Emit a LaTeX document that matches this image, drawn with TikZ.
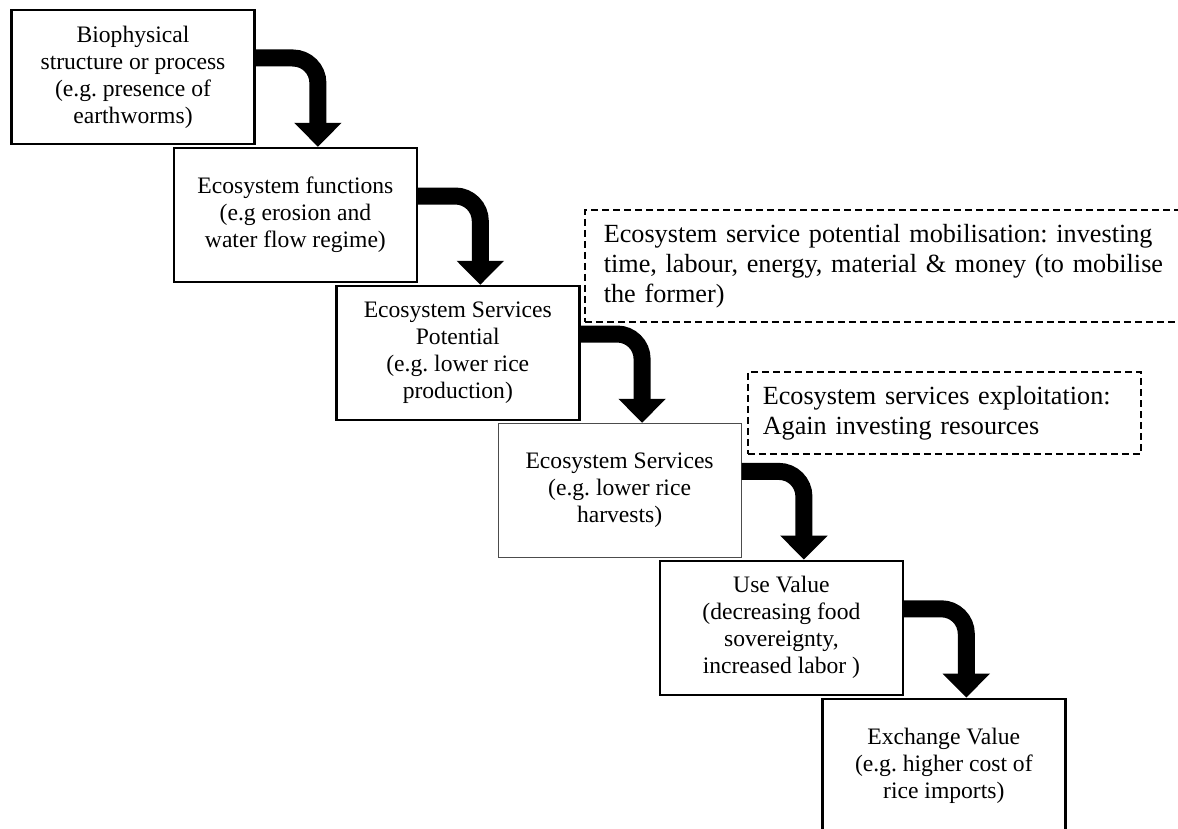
\documentclass[tikz,border=0pt]{standalone}
\usepackage{fontspec}
\setmainfont{Liberation Serif}
\usetikzlibrary{positioning, arrows.meta}

\begin{document}
\frenchspacing
\begin{tikzpicture}[x=0.5pt, y=-0.5pt, node distance=0.8pt and -41.5pt]
\tikzstyle{stage} = [rectangle, minimum width=121.5pt, minimum height=67pt, text centered, align=center, inner sep=2pt, draw=black, line width=1.2pt, font=\fontsize{11.8}{13.5}\selectfont]
\tikzstyle{thinstage} = [stage, draw=black!70, line width=0.6pt]
\tikzstyle{note} = [rectangle, anchor=north west, align=left, draw=black, line width=0.8pt, dash pattern=on 3.5pt off 2pt, font=\fontsize{13.1}{15}\selectfont]
\tikzstyle{flow} = [line width=8.5pt, rounded corners=12.5pt, -{Triangle[width=23pt, length=12pt]}]

\useasboundingbox (0,0) rectangle (1178,829);

\node (biophys) [stage] at (133,77) {Biophysical\\structure or process\\(e.g. presence of\\earthworms)};
\node (functions) [stage, below right=of biophys] {Ecosystem functions\\(e.g erosion and\\water flow regime)};
\node (potential) [stage, below right=of functions] {Ecosystem Services\\Potential\\(e.g. lower rice\\production)};
\node (services) [thinstage, below right=of potential] {Ecosystem Services\\(e.g. lower rice\\harvests)};
\node (usevalue) [stage, below right=of services] {Use Value\\(decreasing food\\sovereignty,\\increased labor )};
\node (exchange) [stage, below right=of usevalue] {Exchange Value\\(e.g. higher cost of\\rice imports)};

\node (mobilise) [note, minimum width=308pt, minimum height=56pt, text width=289pt, inner xsep=9.5pt] at (584,209) {Ecosystem service potential mobilisation: investing\\time, labour, energy, material \& money (to mobilise\\the former)};
\node (exploit) [note, minimum width=196.5pt, minimum height=41pt, text width=181.5pt, inner xsep=7.5pt] at (747,371) {Ecosystem services exploitation:\\Again investing resources};

\draw [flow] ([yshift=9.5pt]biophys.east) -| ([xshift=11.25pt]functions.north);
\draw [flow] ([yshift=9.5pt]functions.east) -| ([xshift=11.25pt]potential.north);
\draw [flow] ([yshift=9.5pt]potential.east) -| ([xshift=11.25pt]services.north);
\draw [flow] ([yshift=9.5pt]services.east) -| ([xshift=11.25pt]usevalue.north);
\draw [flow] ([yshift=9.5pt]usevalue.east) -| ([xshift=11.25pt]exchange.north);
\end{tikzpicture}
\end{document}
